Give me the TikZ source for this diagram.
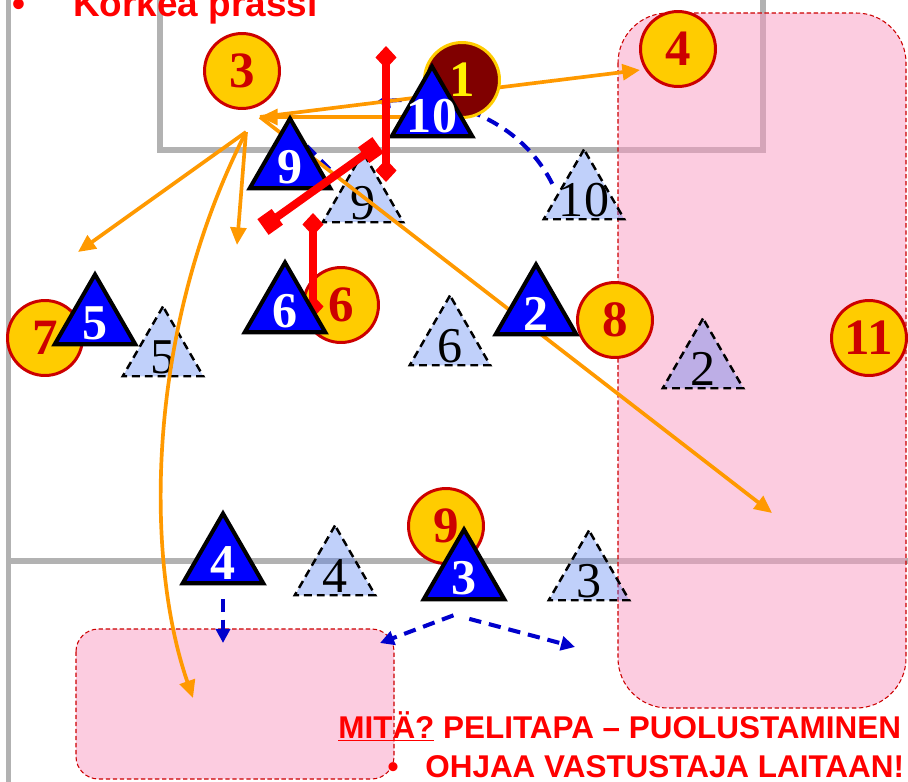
\documentclass[tikz,border=0pt]{standalone}
\usepackage{fontspec}
\setmainfont{Liberation Serif}
\newfontfamily\arialfont{Liberation Sans}
\usetikzlibrary{shapes.geometric,arrows.meta}

\definecolor{oppfill}{RGB}{255,204,0}
\definecolor{oppred}{RGB}{204,0,0}
\definecolor{keeperfill}{RGB}{128,0,0}
\definecolor{ghostblue}{RGB}{80,124,241}
\definecolor{passorange}{RGB}{255,153,0}
\definecolor{zonepink}{RGB}{249,153,193}
\definecolor{fieldgray}{RGB}{178,178,178}
\definecolor{moveblue}{RGB}{0,0,204}

\begin{document}
\begin{tikzpicture}[x=0.02cm,y=-0.02cm,
    fieldline/.style={draw=fieldgray,line width=3.4pt},
    zone/.style={fill=zonepink,fill opacity=0.5,draw=oppred,line width=0.6pt,
      dash pattern=on 2.5pt off 1.5pt},
    opp/.style={circle,fill=oppfill,draw=oppred,line width=1.7pt,
      minimum size=1.5cm,inner sep=0pt,text=oppred,
      font=\fontsize{29}{29}\selectfont\bfseries},
    gk/.style={opp,fill=keeperfill,draw=oppfill,text=yellow},
    own/.style={regular polygon,regular polygon sides=3,minimum size=1.86cm,
      inner sep=0pt,fill=blue,draw=black,line width=2.3pt},
    ownno/.style={text=white,yshift=-1.5pt,font=\fontsize{28.5}{28.5}\selectfont\bfseries},
    ghost/.style={own,fill=ghostblue,fill opacity=0.36,line width=1.4pt,
      dash pattern=on 4.5pt off 2.8pt},
    ghostno/.style={text=black,yshift=-2.5pt,font=\fontsize{28.5}{28.5}\selectfont},
    pass/.style={draw=passorange,line width=2.1pt,-{Triangle[length=10pt,width=9pt]}},
    move/.style={draw=moveblue,line width=2.3pt,dash pattern=on 7pt off 4.5pt,
      -{Triangle[length=8pt,width=8pt]}},
    press/.style={draw=red,line width=4.5pt},
    slogan/.style={text=red,inner sep=0pt,
      font=\arialfont\fontsize{17.9}{17.9}\selectfont\bfseries}]

  \useasboundingbox (0,0) rectangle (908,781);

  % field
  \draw[fieldline] (8.5,-10) -- (8.5,790);
  \draw[fieldline] (8.5,561) -- (920,561);
  \draw[fieldline] (160,-10) -- (160,150) -- (763,150) -- (763,-10);

  % zones
  \draw[zone,rounded corners=1cm] (618,13) rectangle (906,708);
  \draw[zone,rounded corners=0.45cm] (76,629) rectangle (394,779);

  % old positions
  \node[ghost,label={[ghostno]center:9}] (g9) at (363,199) {};
  \node[ghost,label={[ghostno]center:10}] (g10) at (584,196) {};
  \node[ghost,label={[ghostno]center:5}] (g5) at (163,353) {};
  \node[ghost,label={[ghostno]center:6}] (g6) at (450,342) {};
  \node[ghost,label={[ghostno]center:2}] (g2) at (703,365) {};
  \node[ghost,label={[ghostno]center:4}] (g4) at (335,572) {};
  \node[ghost,label={[ghostno]center:3}] (g3) at (589,577) {};

  % ball and pass targets
  \coordinate (ball) at (260,117);
  \coordinate (kick) at (246,132);
  \coordinate (from10) at (432,117);
  \coordinate (aim4) at (640,70);
  \coordinate (aim7) at (78,252);
  \coordinate (aim6) at (237,245);
  \coordinate (deep) at (193,698);
  \coordinate (wing) at (772,513);
  \coordinate (back10) at (376,102);
  \coordinate (back9) at (300,139);

  \draw[move] ([xshift=-6pt]g10.side 1) .. controls (520,120) and (450,95) .. (back10);
  \draw[move,-] ([shift={(-19pt,17pt)}]g9.center) -- (back9);

  \draw[pass] (from10) -- (ball);
  \draw[pass] (ball) -- (aim4);
  \draw[pass] (ball) -- (wing);
  \draw[pass] (kick) -- (aim7);
  \draw[pass] (kick) -- (aim6);
  \draw[pass] (kick) .. controls (145,330) and (145,560) .. (deep);

  % opponents
  \node[opp] (c3) at (242,71) {3};
  \node[gk] (c1) at (462,80) {1};
  \node[opp] (c4) at (678,49) {4};
  \node[opp] (c7) at (45,338) {7};
  \node[opp] (c6) at (341,305) {6};
  \node[opp] (c8) at (615,320) {8};
  \node[opp] (c11) at (869,338) {11};
  \node[opp] (c9) at (446,526) {9};

  \draw[press,{Diamond[length=13pt,width=12pt]}-{Diamond[length=13pt,width=12pt]}]
    (313,213) -- (313,318);

  % own team
  \node[own,label={[ownno]center:9}] (b9) at (290,165) {};
  \node[own,label={[ownno]center:10}] (b10) at (432,113) {};
  \node[own,label={[ownno]center:5}] (b5) at (95,321) {};
  \node[own,label={[ownno]center:6}] (b6) at (285,309) {};
  \node[own,label={[ownno]center:2}] (b2) at (536,311) {};
  \node[own,label={[ownno]center:4}] (b4) at (223,560) {};
  \node[own,label={[ownno]center:3}] (b3) at (464,576) {};

  \coordinate (drop4) at (223,643);
  \coordinate (cover3) at (380,643);
  \coordinate (slide3) at (575,647);
  \draw[move] ([yshift=-8pt]b4.south) -- (drop4);
  \draw[move] ([shift={(-6pt,-8pt)}]b3.south) -- (cover3);
  \draw[move] ([shift={(3pt,-10pt)}]b3.south) -- (slide3);

  % pressing
  \draw[press,{Diamond[length=13pt,width=12pt]}-{Diamond[length=13pt,width=12pt]}]
    (386,46) -- (386,182);
  \draw[press,{Square[length=10pt,width=11pt]}-{Square[length=10pt,width=11pt]}]
    (263,227) -- (378,145);

  % texts
  \node[slogan,anchor=base,font=\arialfont\fontsize{21}{21}\selectfont\bfseries]
    (dot1) at (19,16) {•};
  \node[slogan,anchor=base west,font=\arialfont\fontsize{21}{21}\selectfont\bfseries]
    (title) at (73,16) {Korkea prassi};
  \node[slogan,anchor=base west] (what) at (338,738)
    {\underline{MITÄ?} PELITAPA – PUOLUSTAMINEN};
  \node[slogan,anchor=base] (dot2) at (393,777) {•};
  \node[slogan,anchor=base west] (how) at (425,777) {OHJAA VASTUSTAJA LAITAAN!};
\end{tikzpicture}
\end{document}
